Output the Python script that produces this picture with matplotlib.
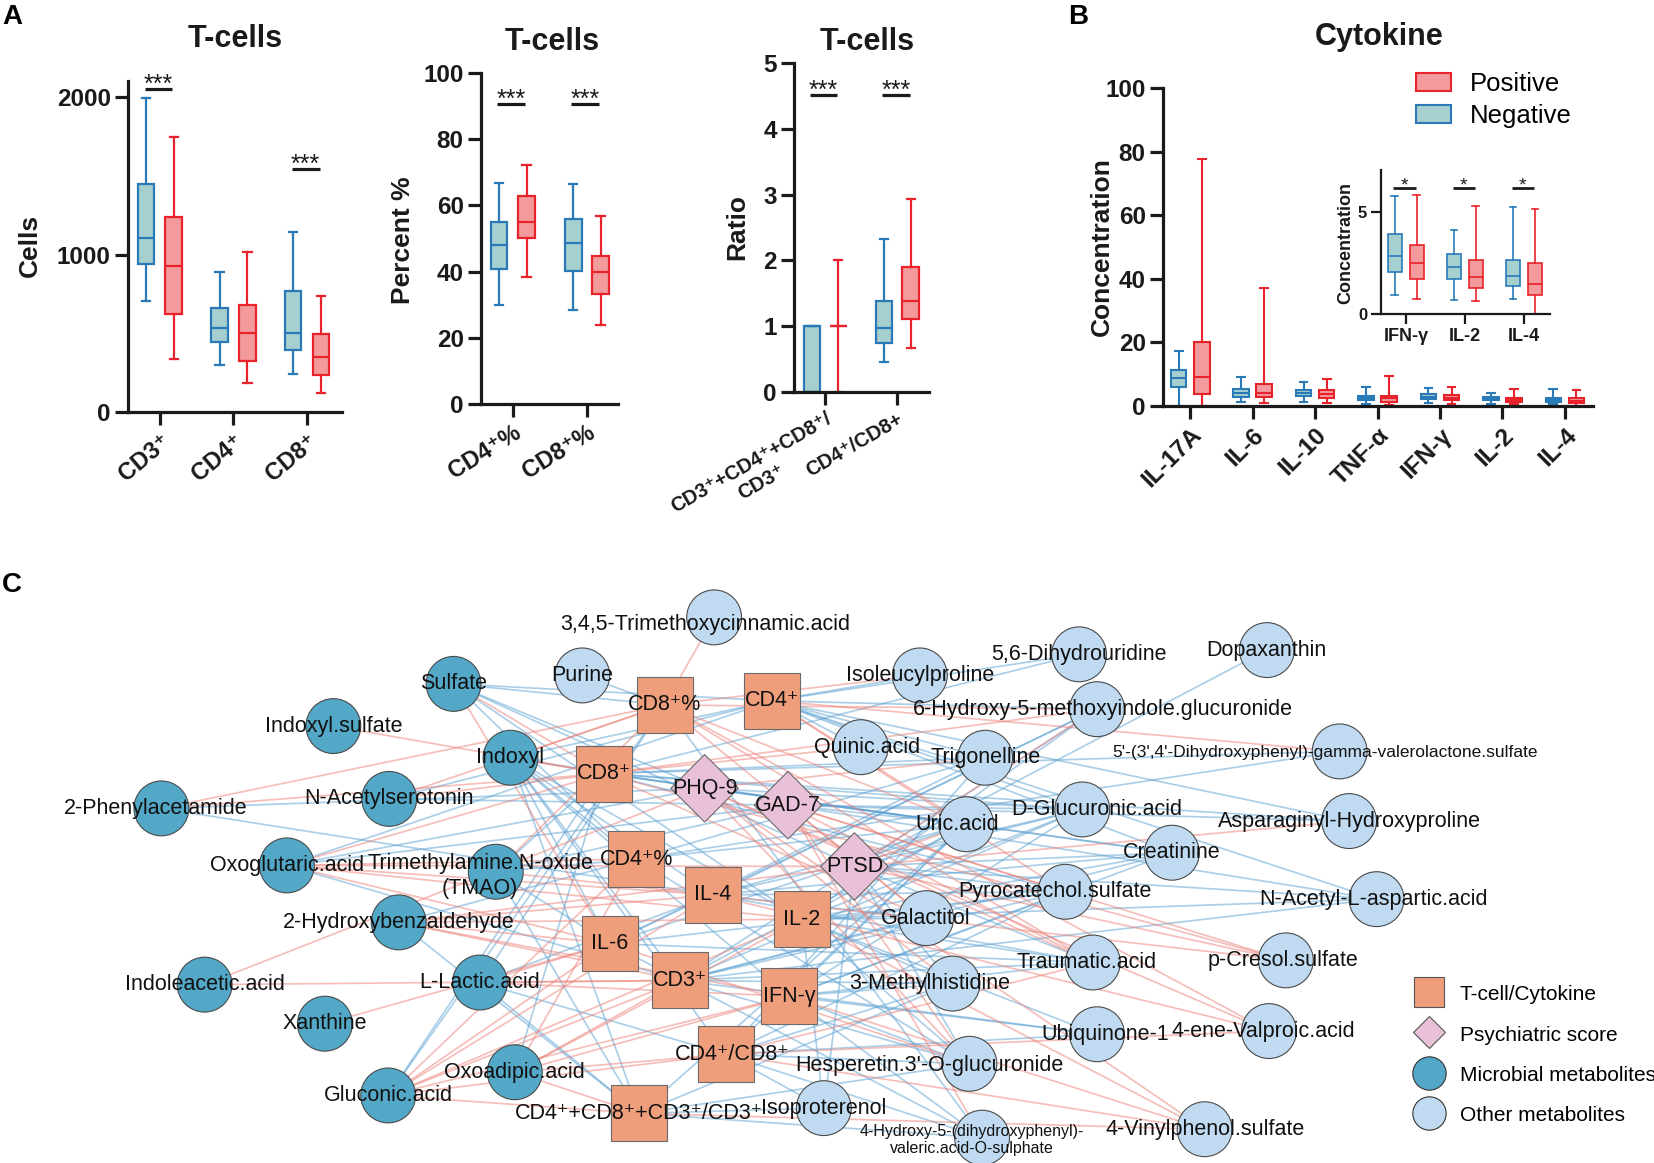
import matplotlib
matplotlib.use("Agg")
import matplotlib.pyplot as plt
from matplotlib.patches import Circle, Rectangle, Polygon, Patch
from matplotlib.lines import Line2D
import numpy as np

plt.rcParams['font.family'] = ['Liberation Sans', 'DejaVu Sans']

#############################
#            DATA           #
#############################

# box stats are [whisker low, Q1, median, Q3, whisker high]
cells_cats = ["CD3⁺", "CD4⁺", "CD8⁺"]
cells_neg = [[702, 941, 1106, 1448, 1992], [300, 444, 535, 660, 888], [241, 395, 501, 767, 1142]]
cells_pos = [[334, 624, 930, 1241, 1744], [184, 321, 503, 679, 1013], [120, 235, 349, 497, 738]]
cells_sig = {0: 2051, 2: 1543}

pct_cats = ["CD4⁺%", "CD8⁺%"]
pct_neg = [[29.9, 40.9, 48.0, 55.1, 66.9], [28.3, 40.1, 48.5, 55.9, 66.6]]
pct_pos = [[38.4, 50.1, 55.0, 62.7, 72.1], [23.9, 33.3, 39.9, 44.8, 56.9]]
pct_sig = {0: 90.7, 1: 90.7}

ratio_cats = ["CD3⁺+CD4⁺+CD8⁺/\nCD3⁺", "CD4⁺/CD8+"]
ratio_neg = [[0, 0, 1, 1, 1], [0.46, 0.74, 0.97, 1.39, 2.32]]
ratio_pos = [[0, 1, 1, 1, 2], [0.67, 1.11, 1.39, 1.90, 2.93]]
ratio_sig = {0: 4.52, 1: 4.52}

cyto_cats = ["IL-17A", "IL-6", "IL-10", "TNF-α", "IFN-γ", "IL-2", "IL-4"]
cyto_neg = [[0, 5.9, 8.7, 11.3, 17.2], [1.3, 2.8, 4.2, 5.4, 9.2], [1.3, 3.1, 4.0, 4.9, 7.5],
            [0.5, 1.8, 2.6, 3.3, 6.0], [0.93, 2.08, 2.85, 3.90, 5.80], [0.69, 1.74, 2.30, 2.93, 4.10],
            [0.75, 1.39, 1.87, 2.67, 5.26]]
cyto_pos = [[0, 3.7, 9.1, 20.0, 77.6], [1.0, 2.8, 4.2, 6.8, 37.2], [1.0, 2.6, 3.9, 4.9, 8.6],
            [0.2, 1.3, 2.4, 3.3, 9.4], [0.74, 1.74, 2.52, 3.39, 5.85], [0.64, 1.26, 1.79, 2.67, 5.31],
            [0, 0.92, 1.48, 2.49, 5.15]]
inset_idx = [4, 5, 6]
inset_sig = {0: 6.2, 1: 6.2, 2: 6.2}

# network (panel C): node groups, labels and links
tcell_nodes = ["CD8P", "CD4", "CD8", "CD4P", "IL4", "IL2", "IL6", "CD3", "IFN", "R48", "RSUM"]
psych_nodes = ["PHQ", "GAD", "PTSD"]
microbial_nodes = ["SUL", "IXS", "IXL", "PAA", "NAS", "OGA", "TMAO", "HBA", "IAA", "LAC", "XAN", "GLU", "OAA"]
other_nodes = ["TMC", "PUR", "ILP", "DHU", "DOP", "HMG", "QUI", "TRI", "DVS", "URI", "DGA", "AHP", "CRE",
               "PCS", "NAA", "GAL", "TRA", "PCR", "MHI", "UBQ", "EVA", "HES", "ISO", "HVS", "VPS"]

labels = {
    "CD8P": "CD8⁺%", "CD4": "CD4⁺", "CD8": "CD8⁺", "CD4P": "CD4⁺%", "IL4": "IL-4", "IL2": "IL-2",
    "IL6": "IL-6", "CD3": "CD3⁺", "IFN": "IFN-γ", "R48": "CD4⁺/CD8⁺", "RSUM": "CD4⁺+CD8⁺+CD3⁺/CD3⁺",
    "PHQ": "PHQ-9", "GAD": "GAD-7", "PTSD": "PTSD",
    "SUL": "Sulfate", "IXS": "Indoxyl.sulfate", "IXL": "Indoxyl", "PAA": "2-Phenylacetamide",
    "NAS": "N-Acetylserotonin", "OGA": "Oxoglutaric.acid", "TMAO": "Trimethylamine.N-oxide\n(TMAO)",
    "HBA": "2-Hydroxybenzaldehyde", "IAA": "Indoleacetic.acid", "LAC": "L-Lactic.acid",
    "XAN": "Xanthine", "GLU": "Gluconic.acid", "OAA": "Oxoadipic.acid",
    "TMC": "3,4,5-Trimethoxycinnamic.acid", "PUR": "Purine", "ILP": "Isoleucylproline",
    "DHU": "5,6-Dihydrouridine", "DOP": "Dopaxanthin", "HMG": "6-Hydroxy-5-methoxyindole.glucuronide",
    "QUI": "Quinic.acid", "TRI": "Trigonelline",
    "DVS": "5'-(3',4'-Dihydroxyphenyl)-gamma-valerolactone.sulfate", "URI": "Uric.acid",
    "DGA": "D-Glucuronic.acid", "AHP": "Asparaginyl-Hydroxyproline", "CRE": "Creatinine",
    "PCS": "Pyrocatechol.sulfate", "NAA": "N-Acetyl-L-aspartic.acid", "GAL": "Galactitol",
    "TRA": "Traumatic.acid", "PCR": "p-Cresol.sulfate", "MHI": "3-Methylhistidine",
    "UBQ": "Ubiquinone-1", "EVA": "4-ene-Valproic.acid", "HES": "Hesperetin.3'-O-glucuronide",
    "ISO": "Isoproterenol", "HVS": "4-Hydroxy-5-(dihydroxyphenyl)-\nvaleric.acid-O-sulphate",
    "VPS": "4-Vinylphenol.sulfate",
}

pos_links = {
    "CD8": ["IXS", "IXL", "NAS", "OGA", "PAA", "SUL", "HMG", "QUI", "GAL", "PCR"],
    "CD8P": ["TMC", "PAA", "NAS", "TMAO", "IXL", "ILP", "HMG", "URI", "GAL", "TRA", "EVA"],
    "CD4": ["DVS", "PCS", "URI"],
    "PHQ": ["TRI", "EVA", "TRA", "MHI", "HES", "VPS", "IAA"],
    "GAD": ["PCS", "PCR", "TRA", "GAL", "HES", "HVS"],
    "PTSD": ["HMG", "AHP", "PCR", "OGA", "HBA", "URI"],
    "CD4P": ["OGA", "GLU", "OAA"],
    "IL4": ["OGA", "TMAO", "HBA", "PCR", "EVA", "GLU"],
    "IL2": ["HBA", "OGA", "VPS", "GLU", "OAA"],
    "IL6": ["SUL", "OGA", "HBA", "LAC", "XAN", "GLU", "HES"],
    "CD3": ["IAA", "LAC", "HBA", "GLU", "OAA"],
    "IFN": ["OAA", "GLU", "LAC", "HBA", "VPS"],
    "R48": ["GLU", "OAA", "EVA", "VPS", "TRA"],
    "RSUM": ["GLU", "OAA", "VPS"],
}
neg_links = {
    "CD8": ["TMAO", "DHU", "TRI", "URI", "DGA", "CRE", "DVS", "AHP", "PCS", "GLU", "OAA"],
    "CD8P": ["PUR", "SUL", "GLU", "LAC", "HVS"],
    "CD4": ["ILP", "DHU", "HMG", "QUI", "TRI", "DGA", "AHP", "CRE", "NAA", "SUL", "IXL", "NAS", "OGA"],
    "PHQ": ["SUL", "IXL", "PAA", "URI", "DGA", "CRE", "OGA"],
    "GAD": ["NAS", "OGA", "TMAO", "URI", "DGA", "AHP", "NAA"],
    "PTSD": ["DGA", "CRE", "NAA", "PCS", "TRA", "MHI", "HES", "ISO", "SUL", "DOP"],
    "CD4P": ["TMAO", "HBA", "SUL", "IXL", "TRI", "DVS", "URI", "HES"],
    "IL4": ["IXL", "PAA", "HMG", "URI", "DGA", "CRE", "PCS", "GAL", "LAC", "TRA"],
    "IL2": ["IXL", "SUL", "HMG", "URI", "DGA", "CRE", "NAA", "PCS", "GAL", "TRA", "MHI",
            "UBQ", "HES", "ISO"],
    "IL6": ["IXL", "TMAO", "URI", "TRI", "HMG", "PCS", "TRA", "HVS"],
    "CD3": ["OGA", "IXL", "URI", "DGA", "HMG", "CRE", "PCS", "GAL", "TRA", "MHI", "NAA", "HES", "UBQ"],
    "IFN": ["MHI", "TRA", "PCS", "URI", "CRE", "DGA", "HES", "HVS", "UBQ", "IXL"],
    "R48": ["LAC", "IXL", "URI", "TRI", "PCS", "MHI", "HES", "UBQ", "ISO", "HVS"],
    "RSUM": ["LAC", "HBA", "TMAO", "IXL", "HES", "ISO", "HVS", "MHI", "URI"],
}

#############################
#           LAYOUT          #
#############################

FW, FH = 1654, 1163          # figure size in pixels
NW, NH = 1568, 1102          # coordinate frame of the network panel

# network node layout (x, y) in the panel frame
layout = {
    "CD8P": (630, 668), "CD4": (732, 664), "CD8": (573, 733), "PHQ": (668, 747), "GAD": (747, 763),
    "CD4P": (603, 814), "PTSD": (810, 821), "IL4": (676, 848), "IL2": (760, 871), "IL6": (578, 894),
    "CD3": (645, 929), "IFN": (748, 944), "R48": (688, 999), "RSUM": (606, 1055),
    "SUL": (430, 648), "IXS": (316, 688), "IXL": (484, 718), "PAA": (153, 766), "NAS": (369, 757),
    "OGA": (272, 820), "TMAO": (470, 826), "HBA": (378, 874), "IAA": (194, 933), "LAC": (455, 931),
    "XAN": (308, 970), "GLU": (368, 1038), "OAA": (488, 1016),
    "TMC": (677, 585), "PUR": (552, 640), "ILP": (872, 640), "DHU": (1023, 620), "DOP": (1201, 616),
    "HMG": (1040, 672), "QUI": (816, 708), "TRI": (934, 718), "DVS": (1270, 712), "URI": (916, 781),
    "DGA": (1026, 767), "AHP": (1279, 778), "CRE": (1111, 808), "PCS": (1010, 845), "NAA": (1305, 852),
    "GAL": (878, 870), "TRA": (1036, 912), "PCR": (1219, 910), "MHI": (903, 932), "UBQ": (1040, 980),
    "EVA": (1203, 977), "HES": (919, 1008), "ISO": (781, 1050), "HVS": (931, 1078), "VPS": (1142, 1070),
}
label_shift = {"PAA": (-5, 0), "TMAO": (-15, 4), "TMC": (-8, 7), "HMG": (6, 0), "DVS": (-14, 1),
               "URI": (-9, 0), "DGA": (14, 0), "PCS": (-10, 0), "TRA": (-6, 0), "MHI": (-22, 0),
               "UBQ": (8, 0), "EVA": (-5, 0), "HES": (-38, 2), "HVS": (-10, 2), "R48": (6, 0),
               "QUI": (6, 0), "PCR": (-3, 0), "NAA": (-3, 0)}
small_labels = {"DVS": 12.5, "HVS": 11.5}

BLUE, TEAL = '#2a7ab8', '#a6cfcf'
RED, PINK = '#e8232b', '#f39a9c'
INK = '#1a1a1a'

fig = plt.figure(figsize=(FW / 100, FH / 100), dpi=100)


def add_ax(left, top, right, bottom):
    return fig.add_axes([left / FW, 1 - bottom / FH, (right - left) / FW, (bottom - top) / FH])


def draw_pairs(ax, neg, pos, off, width, lw=1.6):
    x = np.arange(len(neg))
    for stats, shift, edge, face in ((neg, -off, BLUE, TEAL), (pos, off, RED, PINK)):
        bx = [dict(whislo=s[0], q1=s[1], med=s[2], q3=s[3], whishi=s[4]) for s in stats]
        ax.bxp(bx, positions=x + shift, widths=width, capwidths=width * 0.5, patch_artist=True,
               showfliers=False, manage_ticks=False,
               boxprops=dict(facecolor=face, edgecolor=edge, linewidth=lw),
               medianprops=dict(color=edge, linewidth=lw),
               whiskerprops=dict(color=edge, linewidth=lw),
               capprops=dict(color=edge, linewidth=lw))


def style_axes(ax, xlim, ylim, yticks, cats, rot, xfs, yfs, lw=2.3, tlen=9.5):
    ax.set_xlim(*xlim)
    ax.set_ylim(*ylim)
    ax.spines[['top', 'right']].set_visible(False)
    ax.spines[['left', 'bottom']].set_linewidth(lw)
    ax.spines[['left', 'bottom']].set_color(INK)
    ax.set_yticks(yticks)
    ax.set_yticklabels([f"{t:g}" for t in yticks], fontsize=yfs, fontweight='bold', color=INK)
    ax.set_xticks(np.arange(len(cats)))
    if rot:
        ax.set_xticklabels(cats, rotation=rot, ha='right', va='top', rotation_mode='anchor',
                           fontsize=xfs, fontweight='bold', multialignment='center', color=INK)
    else:
        ax.set_xticklabels(cats, fontsize=xfs, fontweight='bold', color=INK)
    ax.tick_params(width=lw, length=tlen, pad=3, color=INK)
    ax.patch.set_alpha(0)


def add_sig(ax, sig, fs=18, lw=2.3, text="***"):
    for i, y in sig.items():
        ax.plot([i - 0.21, i + 0.17], [y, y], color=INK, lw=lw, solid_capstyle='butt', clip_on=False)
        ax.annotate(text, (i - 0.02, y), xytext=(0, -2), textcoords='offset points',
                    ha='center', va='baseline', fontsize=fs, color=INK)


#############################
#      PANEL C: NETWORK     #
#############################

axn = fig.add_axes([0, 0, 1, 1])
axn.set_xlim(0, NW)
axn.set_ylim(NH, 0)
axn.axis('off')

for links, col in ((neg_links, '#5aa0d2'), (pos_links, '#ec7f76')):
    for hub, targets in links.items():
        for t in targets:
            (x0, y0), (x1, y1) = layout[hub], layout[t]
            axn.plot([x0, x1], [y0, y1], color=col, lw=1.25, alpha=0.5, zorder=1)

R, S, D = 26, 26.5, 32
for key in microbial_nodes + other_nodes:
    x, y = layout[key]
    fc = '#52a8c6' if key in microbial_nodes else '#c0dbf1'
    axn.add_patch(Circle((x, y), R, fc=fc, ec='#4a4a4a', lw=0.8, zorder=3))
for key in tcell_nodes:
    x, y = layout[key]
    axn.add_patch(Rectangle((x - S, y - S), 2 * S, 2 * S, fc='#ef9e7c', ec='#6a6a6a', lw=0.8, zorder=3))
for key in psych_nodes:
    x, y = layout[key]
    axn.add_patch(Polygon([(x, y - D), (x + D, y), (x, y + D), (x - D, y)], closed=True,
                          fc='#e8c1d9', ec='#6a6a6a', lw=0.8, zorder=3))

for key, (x, y) in layout.items():
    dx, dy = label_shift.get(key, (0, 0))
    axn.text(x + dx, y + dy, labels[key], ha='center', va='center', multialignment='center',
             fontsize=small_labels.get(key, 15.5), color='#111111', zorder=5)

net_handles = [
    Line2D([], [], ls='none', marker='s', ms=22, mfc='#ef9e7c', mec='#555555', mew=0.8, label='T-cell/Cytokine'),
    Line2D([], [], ls='none', marker='D', ms=16.5, mfc='#e8c1d9', mec='#555555', mew=0.8, label='Psychiatric score'),
    Line2D([], [], ls='none', marker='o', ms=24, mfc='#52a8c6', mec='#333333', mew=0.8, label='Microbial metabolites'),
    Line2D([], [], ls='none', marker='o', ms=24, mfc='#c0dbf1', mec='#333333', mew=0.8, label='Other metabolites'),
]
axn.legend(handles=net_handles, loc='upper left', bbox_to_anchor=(1413 / FW, 1 - 984 / FH),
           bbox_transform=fig.transFigure, frameon=False, fontsize=15, handlelength=1.5,
           handleheight=1.0, handletextpad=0.75, labelspacing=0.95, borderpad=0, borderaxespad=0)

#############################
#      PANEL A: T-CELLS     #
#############################

ax1 = add_ax(128, 81.25, 342, 412)
draw_pairs(ax1, cells_neg, cells_pos, 0.19, 0.23)
style_axes(ax1, (-0.435, 2.476), (0, 2100), [0, 1000, 2000], cells_cats, 40, 17, 17.5)
add_sig(ax1, cells_sig)

ax2 = add_ax(481, 73, 618, 404)
draw_pairs(ax2, pct_neg, pct_pos, 0.185, 0.225)
style_axes(ax2, (-0.43, 1.42), (0, 100), [0, 20, 40, 60, 80, 100], pct_cats, 32, 17, 17.5)
add_sig(ax2, pct_sig)

ax3 = add_ax(794, 63, 929, 392)
draw_pairs(ax3, ratio_neg, ratio_pos, 0.185, 0.225)
style_axes(ax3, (-0.43, 1.44), (0, 5), [0, 1, 2, 3, 4, 5], ratio_cats, 30, 14.5, 17.5)
add_sig(ax3, ratio_sig)

#############################
#     PANEL B: CYTOKINES    #
#############################

axb = add_ax(1163, 88, 1593, 406)
draw_pairs(axb, cyto_neg, cyto_pos, 0.185, 0.25, lw=1.5)
style_axes(axb, (-0.435, 6.45), (0, 100), [0, 20, 40, 60, 80, 100], cyto_cats, 45, 17.5, 17.5)
axb.legend(handles=[Patch(facecolor=PINK, edgecolor=RED, lw=1.5, label='Positive'),
                    Patch(facecolor=TEAL, edgecolor=BLUE, lw=1.5, label='Negative')],
           loc='upper left', bbox_to_anchor=(1416 / FW, 1 - 72 / FH), bbox_transform=fig.transFigure,
           frameon=False, fontsize=18.5, handlelength=1.35, handleheight=0.68, handletextpad=0.75,
           labelspacing=0.3, borderpad=0, borderaxespad=0)

axi = add_ax(1381, 170, 1550, 314)
draw_pairs(axi, [cyto_neg[i] for i in inset_idx], [cyto_pos[i] for i in inset_idx], 0.185, 0.23, lw=1.2)
style_axes(axi, (-0.42, 2.44), (0, 7.06), [0, 5], [cyto_cats[i] for i in inset_idx], 0, 13, 12,
           lw=1.6, tlen=7)
add_sig(axi, inset_sig, fs=14, lw=2.0, text="*")

# titles, axis labels and panel letters
for x, y, t in ((235, 39, "T-cells"), (552, 42, "T-cells"), (867, 42, "T-cells"), (1379, 37, "Cytokine")):
    fig.text(x / FW, 1 - y / FH, t, ha='center', va='center', fontsize=22, fontweight='bold', color=INK)
for x, y, t, fs in ((30, 245, "Cells", 19), (403, 240, "Percent %", 19), (737, 227, "Ratio", 19),
                    (1102, 247, "Concentration", 19), (1346, 243, "Concentration", 13)):
    fig.text(x / FW, 1 - y / FH, t, ha='center', va='center', rotation=90, fontsize=fs,
             fontweight='bold', color=INK)
for x, y, t in ((2, 4, "A"), (1068, 4, "B"), (2, 572, "C")):
    fig.text(x / FW, 1 - y / FH, t, ha='left', va='top', fontsize=20, fontweight='bold', color='#000000')

fig.savefig("out.png", dpi=100)
